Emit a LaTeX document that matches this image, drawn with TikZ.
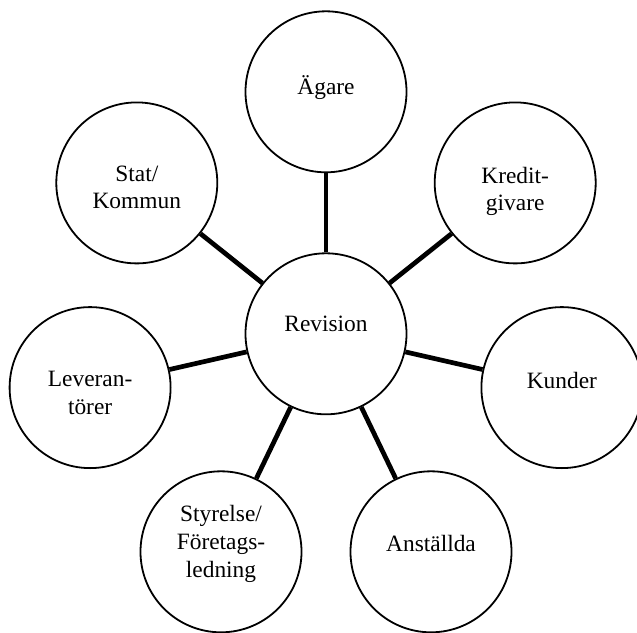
\documentclass[tikz,border=0pt]{standalone}
\usepackage{fontspec}
\setmainfont{Liberation Serif}
\begin{document}
\begin{tikzpicture}[x=0.5pt,y=-0.5pt,
  party/.style={circle,draw=black,line width=0.9pt,fill=white,minimum size=80.5pt,inner sep=0pt},
  lbl/.style={anchor=base,inner sep=0pt,font=\fontsize{11.7}{13.75}\selectfont},
  conn/.style={line width=2.35pt}]
\useasboundingbox (0,0) rectangle (637,632);
% circles
\node[party] (rev) at (326,333.8) {};
\node[party] (agare) at (326,91.8) {};
\node[party] (kredit) at (515.2,182.9) {};
\node[party] (kunder) at (561.9,387.6) {};
\node[party] (anst) at (431,551.8) {};
\node[party] (styr) at (221,551.8) {};
\node[party] (lev) at (90.1,387.6) {};
\node[party] (stat) at (136.8,182.9) {};
% connectors
\foreach \n in {agare,kredit,kunder,anst,styr,lev,stat}
  \draw[conn] (rev) -- (\n);
% labels
\node[lbl] (trev) at (326,331) {Revision};
\node[lbl] (tagare) at (326,94) {Ägare};
\node[lbl] (tkredit1) at (515.2,183.5) {Kredit-};
\node[lbl] (tkredit2) at (515.2,210.5) {givare};
\node[lbl] (tstat1) at (136.8,181.5) {Stat/};
\node[lbl] (tstat2) at (136.8,208.5) {Kommun};
\node[lbl] (tkunder) at (561.9,388.5) {Kunder};
\node[lbl] (tlev1) at (90.1,386.8) {Leveran-};
\node[lbl] (tlev2) at (90.1,414) {törer};
\node[lbl] (tanst) at (431,551.7) {Anställda};
\node[lbl] (tstyr1) at (221,521.7) {Styrelse/};
\node[lbl] (tstyr2) at (221,549.3) {Företags-};
\node[lbl] (tstyr3) at (221,577) {ledning};
\end{tikzpicture}
\end{document}
